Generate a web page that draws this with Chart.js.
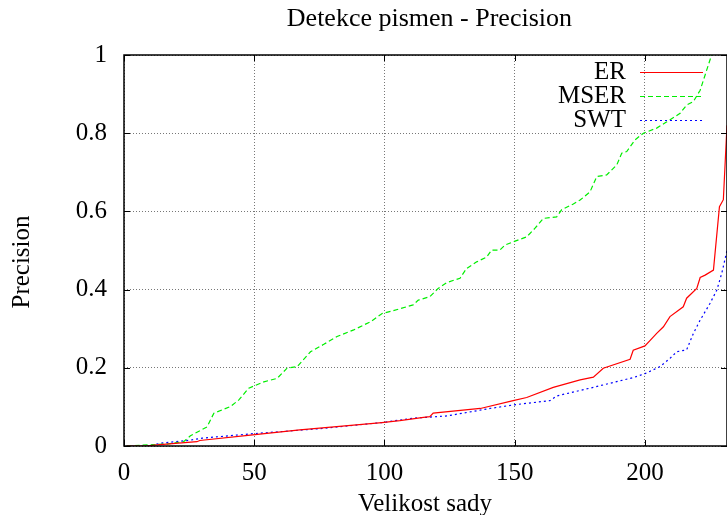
<!DOCTYPE html>
<html>
<head>
<meta charset="utf-8">
<script src="https://cdn.jsdelivr.net/npm/chart.js@4"></script>
<style>
  html, body { margin: 0; padding: 0; background: #fff; }
  #wrap { width: 727px; height: 515px; position: relative; }
</style>
</head>
<body>
<div id="wrap"><canvas id="chart"></canvas></div>
<script>
// Labels
const chartTitle = 'Detekce pismen - Precision';
const xTitle = 'Velikost sady';
const yTitle = 'Precision';
const seriesNames = ['ER', 'MSER', 'SWT'];

// ER (red, solid)
const erX = [1, 8.6, 12.7, 28, 29.1, 48.5, 67.5, 99, 105.9, 115, 117.4, 118.7, 136.8, 149.4, 154.6, 164.8, 175.1, 180.2, 184, 194.3, 195.5, 200, 202, 204.5, 207.1, 209.6, 214.7, 216, 219.9, 221.2, 223.1, 226.3, 228.6, 230.1, 231.5];
const erY = [0, 0, 0.003, 0.011, 0.014, 0.028, 0.041, 0.06, 0.065, 0.073, 0.075, 0.084, 0.096, 0.116, 0.124, 0.15, 0.169, 0.176, 0.199, 0.222, 0.245, 0.256, 0.27, 0.288, 0.305, 0.331, 0.356, 0.378, 0.403, 0.431, 0.437, 0.45, 0.612, 0.63, 0.82];

// MSER (green, dashed)
const mserX = [1, 16.3, 22.9, 25.5, 31.9, 34.5, 40.9, 44.1, 47.9, 53.7, 58.8, 62.6, 66.5, 71.6, 76.7, 81.8, 88.2, 94.7, 99.1, 103.3, 111, 113, 117.4, 120.6, 123.9, 129, 131.5, 135.4, 139.2, 141.1, 144.3, 146.3, 149.4, 154.6, 157.8, 161, 166.1, 168, 172.5, 175.1, 178.9, 181.5, 185.3, 189.2, 191.1, 193, 196.2, 199.4, 204.5, 208.4, 213.5, 216, 218.6, 221.2, 223.1, 225.6];
const mserY = [0, 0.005, 0.011, 0.026, 0.049, 0.084, 0.101, 0.118, 0.148, 0.164, 0.173, 0.199, 0.203, 0.241, 0.26, 0.28, 0.297, 0.318, 0.339, 0.346, 0.361, 0.373, 0.382, 0.403, 0.418, 0.429, 0.454, 0.471, 0.483, 0.501, 0.501, 0.514, 0.522, 0.535, 0.557, 0.582, 0.586, 0.604, 0.619, 0.629, 0.65, 0.689, 0.693, 0.719, 0.749, 0.753, 0.783, 0.8, 0.813, 0.829, 0.851, 0.872, 0.881, 0.91, 0.949, 1.0];

// SWT (blue, dotted)
const swtX = [1, 8.6, 15, 25.5, 30, 48.6, 76.7, 99, 111, 124, 140.5, 149.4, 163.5, 166.1, 180.2, 195.5, 200, 205.8, 209.6, 212.2, 216, 218.6, 221.2, 225, 227.6, 229.5, 231.5];
const swtY = [0, 0, 0.008, 0.015, 0.02, 0.031, 0.045, 0.06, 0.071, 0.077, 0.096, 0.105, 0.116, 0.128, 0.15, 0.175, 0.185, 0.203, 0.224, 0.241, 0.246, 0.288, 0.322, 0.365, 0.399, 0.442, 0.5];

// Axis ticks
const xTicks = [0, 50, 100, 150, 200];
const yTicks = [0, 0.2, 0.4, 0.6, 0.8, 1];

const FONT = '"Liberation Serif", "DejaVu Serif", serif';
const FONT_SIZE = 25;

function toPoints(xs, ys) {
    return xs.map(function(x, i) { return { x: x, y: ys[i] }; });
}

// Title, axis titles, frame with inward ticks, and key
const gnuplotDecor = {
    id: 'gnuplotDecor',
    afterDraw: function(chart) {
        const ctx = chart.ctx;
        const area = chart.chartArea;
        const xs = chart.scales.x;
        const ys = chart.scales.y;

        ctx.save();
        // frame
        ctx.strokeStyle = '#000';
        ctx.lineWidth = 1.5;
        ctx.setLineDash([]);
        ctx.strokeRect(area.left, area.top, area.right - area.left, area.bottom - area.top);

        // inward ticks, mirrored
        ctx.lineWidth = 1;
        ctx.beginPath();
        xTicks.forEach(function(v) {
            const px = Math.round(xs.getPixelForValue(v)) + 0.5;
            ctx.moveTo(px, area.bottom); ctx.lineTo(px, area.bottom - 6);
            ctx.moveTo(px, area.top); ctx.lineTo(px, area.top + 6);
        });
        yTicks.forEach(function(v) {
            const py = Math.round(ys.getPixelForValue(v)) + 0.5;
            ctx.moveTo(area.left, py); ctx.lineTo(area.left + 6, py);
            ctx.moveTo(area.right, py); ctx.lineTo(area.right - 6, py);
        });
        ctx.stroke();

        // titles
        ctx.fillStyle = '#000';
        ctx.font = '26px ' + FONT;
        ctx.textAlign = 'right';
        ctx.textBaseline = 'middle';
        ctx.fillText(chartTitle, 572, 19);
        ctx.font = FONT_SIZE + 'px ' + FONT;
        ctx.textAlign = 'center';
        ctx.fillText(xTitle, 425, 504);
        ctx.save();
        ctx.translate(22, 262);
        ctx.rotate(-Math.PI / 2);
        ctx.fillText(yTitle, 0, 0);
        ctx.restore();

        // key
        const rows = [72, 96, 120];
        chart.data.datasets.forEach(function(ds, i) {
            ctx.textAlign = 'right';
            ctx.fillStyle = '#000';
            ctx.fillText(ds.label, 626, rows[i]);
            ctx.strokeStyle = ds.borderColor;
            ctx.lineWidth = ds.borderWidth;
            ctx.setLineDash(ds.borderDash || []);
            ctx.beginPath();
            ctx.moveTo(640, rows[i] + 0.5);
            ctx.lineTo(703, rows[i] + 0.5);
            ctx.stroke();
        });
        ctx.restore();
    }
};

const ctx = document.getElementById('chart').getContext('2d');
new Chart(ctx, {
    type: 'line',
    data: {
        datasets: [
            {
                label: seriesNames[0],
                data: toPoints(erX, erY),
                borderColor: '#ff0000',
                borderWidth: 1.2,
                pointRadius: 0,
                tension: 0,
                fill: false
            },
            {
                label: seriesNames[1],
                data: toPoints(mserX, mserY),
                borderColor: '#00ee00',
                borderWidth: 1.2,
                borderDash: [5, 3],
                pointRadius: 0,
                tension: 0,
                fill: false
            },
            {
                label: seriesNames[2],
                data: toPoints(swtX, swtY),
                borderColor: '#0000ff',
                borderWidth: 1.2,
                borderDash: [2, 3],
                pointRadius: 0,
                tension: 0,
                fill: false
            }
        ]
    },
    options: {
        responsive: true,
        maintainAspectRatio: false,
        animation: false,
        devicePixelRatio: 1,
        layout: { padding: { top: 55, right: 0, left: 0, bottom: 0 } },
        plugins: {
            legend: { display: false },
            title: { display: false },
            tooltip: { enabled: false }
        },
        scales: {
            x: {
                type: 'linear',
                min: 0,
                max: 231.5,
                afterFit: function(scale) { scale.height = 69; },
                afterBuildTicks: function(scale) {
                    scale.ticks = xTicks.map(function(v) { return { value: v }; });
                },
                ticks: {
                    color: '#000',
                    font: { family: FONT, size: FONT_SIZE },
                    padding: 12,
                    maxRotation: 0,
                    callback: function(v) { return String(v); }
                },
                grid: {
                    color: '#777',
                    lineWidth: 1,
                    drawTicks: false
                },
                border: { display: false, dash: [1, 2] }
            },
            y: {
                type: 'linear',
                min: 0,
                max: 1,
                afterFit: function(scale) { scale.width = 124; },
                afterBuildTicks: function(scale) {
                    scale.ticks = yTicks.map(function(v) { return { value: v }; });
                },
                ticks: {
                    color: '#000',
                    font: { family: FONT, size: FONT_SIZE },
                    padding: 17,
                    callback: function(v) { return String(v); }
                },
                grid: {
                    color: '#777',
                    lineWidth: 1,
                    drawTicks: false
                },
                border: { display: false, dash: [1, 2] }
            }
        }
    },
    plugins: [gnuplotDecor]
});
</script>
</body>
</html>
